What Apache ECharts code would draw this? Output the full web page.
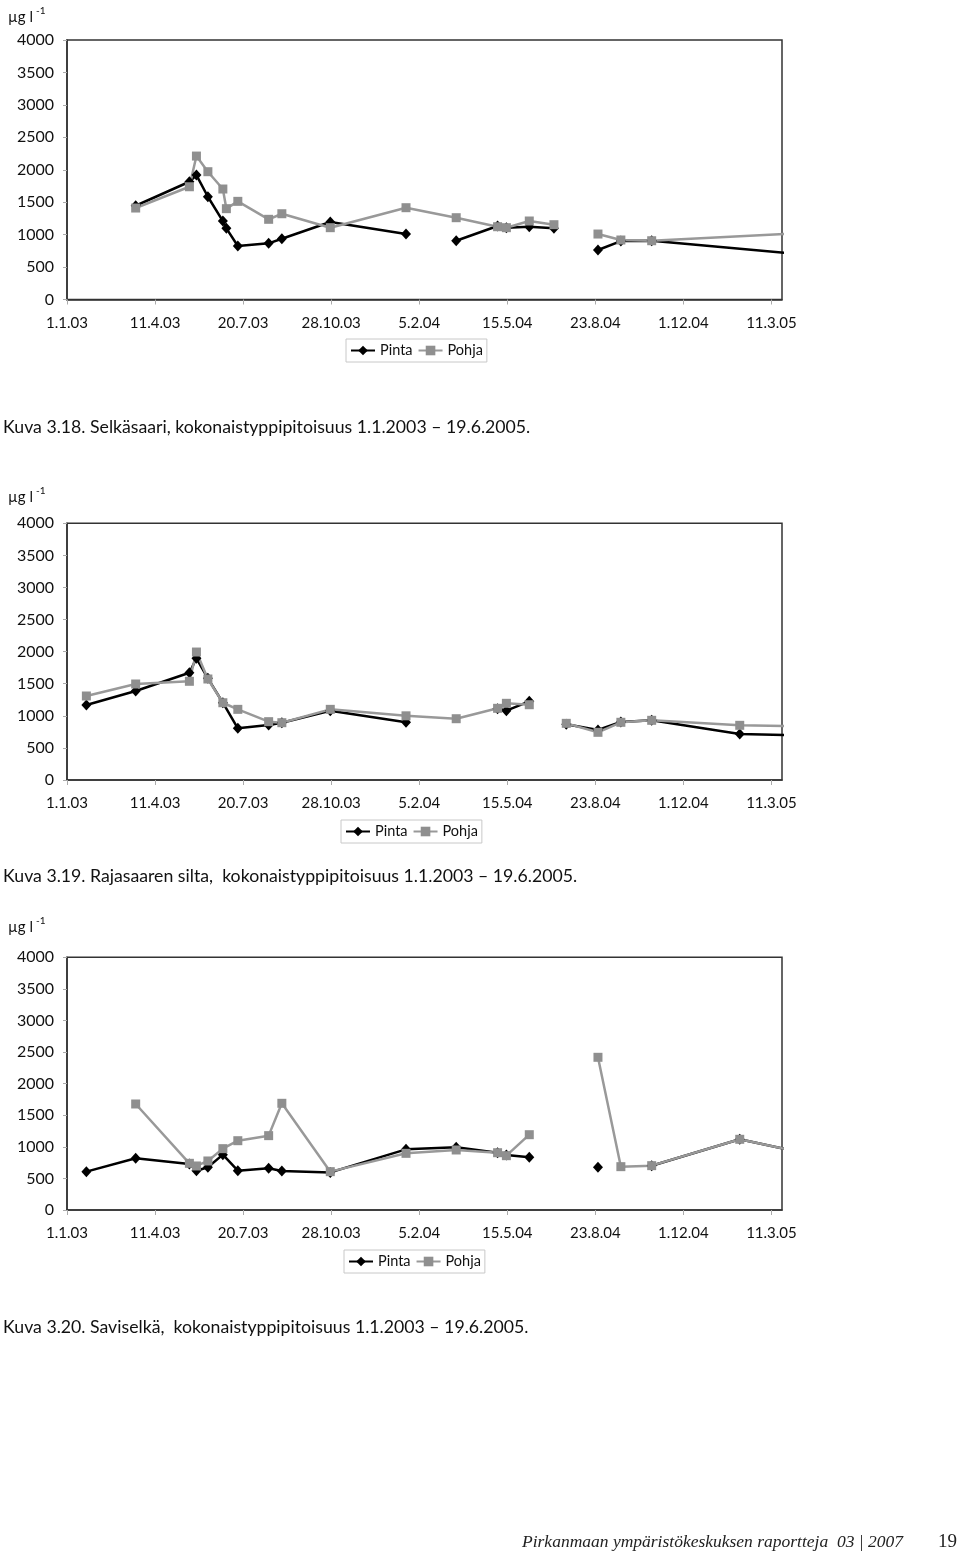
<!DOCTYPE html>
<html>
<head>
<meta charset="utf-8">
<script src="https://cdn.jsdelivr.net/npm/echarts@6/dist/echarts.min.js"></script>
<style>
html, body { margin: 0; padding: 0; background: #fff; }
#main { width: 960px; height: 1551px; }
</style>
</head>
<body>
<div id="main"></div>
<script>
var myChart = echarts.init(document.getElementById('main'));

// y-akselin asteikko
var yMin = 0, yMax = 4000, yStep = 500;
// x-akseli päivinä 1.1.2003 alkaen, merkinnät 100 päivän välein
var xMax = 812, xStep = 100;

// Kuva 3.18 Selkäsaari (null = katko viivassa)
var selkaPintaPvm = ['20.3.2003', '20.5.2003', '28.5.2003', '10.6.2003', '27.6.2003', '1.7.2003', '14.7.2003',
  '18.8.2003', '2.9.2003', '27.10.2003', '21.1.2004', '15.2.2004', '18.3.2004', '4.5.2004', '14.5.2004',
  '9.6.2004', '7.7.2004', '1.8.2004', '26.8.2004', '21.9.2004', '26.10.2004', '19.6.2005'];
var selkaPinta = [1445, 1815, 1918, 1584, 1209, 1097, 824, 866, 937, 1194, 1009, null, 906, 1133, 1105,
  1122, 1097, null, 763, 901, 906, 612];
var selkaPohjaPvm = ['20.3.2003', '20.5.2003', '28.5.2003', '10.6.2003', '27.6.2003', '1.7.2003', '14.7.2003',
  '18.8.2003', '2.9.2003', '27.10.2003', '21.1.2004', '18.3.2004', '4.5.2004', '14.5.2004',
  '9.6.2004', '7.7.2004', '1.8.2004', '26.8.2004', '21.9.2004', '26.10.2004', '19.6.2005'];
var selkaPohja = [1410, 1738, 2211, 1970, 1703, 1400, 1513, 1236, 1322, 1107, 1415, 1261, 1122, 1107,
  1210, 1153, null, 1009, 917, 906, 1070];

// Kuva 3.19 Rajasaaren silta
var rajaPvm = ['23.1.2003', '20.3.2003', '20.5.2003', '28.5.2003', '10.6.2003', '27.6.2003', '14.7.2003',
  '18.8.2003', '2.9.2003', '27.10.2003', '21.1.2004', '18.3.2004', '4.5.2004', '14.5.2004', '9.6.2004',
  '1.7.2004', '21.7.2004', '26.8.2004', '21.9.2004', '26.10.2004', '3.2.2005', '19.6.2005'];
var rajaPinta = [1168, 1386, 1672, 1896, 1584, 1204, 805, 857, 893, 1080, 900, null, 1110, 1080, 1226,
  null, 870, 779, 905, 930, 717, 672];
var rajaPohja = [1309, 1496, 1538, 1994, 1574, 1204, 1101, 909, 893, 1101, 1000, 955, 1117, 1195, 1173,
  null, 883, 743, 899, 930, 852, 821];

// Kuva 3.20 Saviselkä
var saviPvm = ['23.1.2003', '20.3.2003', '20.5.2003', '28.5.2003', '10.6.2003', '27.6.2003', '14.7.2003',
  '18.8.2003', '2.9.2003', '27.10.2003', '21.1.2004', '18.3.2004', '4.5.2004', '14.5.2004', '9.6.2004',
  '15.7.2004', '26.8.2004', '21.9.2004', '26.10.2004', '3.2.2005', '19.6.2005'];
var saviPinta = [607, 818, 730, 622, 676, 876, 622, 660, 617, 595, 960, 992, 905, 870, 834,
  null, 676, null, 700, 1119, 714];
var saviPohja = [null, 1678, 739, 697, 776, 971, 1097, 1177, 1689, 607, 897, 950, 907, 860, 1192,
  null, 2417, 686, 702, 1119, 714];

var fontti = 'Lato, "Open Sans", sans-serif';
var alku = Date.UTC(2003, 0, 1);

// päivämäärä -> päiviä alusta
function paiva(s) {
  var p = s.split('.');
  return (Date.UTC(+p[2], p[1] - 1, +p[0]) - alku) / 86400000;
}
// päiviä alusta -> d.m.yy
function pvmTeksti(d) {
  var t = new Date(alku + d * 86400000);
  return t.getUTCDate() + '.' + (t.getUTCMonth() + 1) + '.' + String(t.getUTCFullYear()).slice(2);
}
function pisteet(pvm, arvot) {
  return pvm.map(function (s, i) { return [paiva(s), arvot[i]]; });
}

// kaavioiden paikat
var ruudut = [
  { top: 40, height: 259.5, legendTop: 339, legendLeft: 346, ylabel: 17, caption: 427,
    text: 'Kuva 3.18. Selkäsaari, kokonaistyppipitoisuus 1.1.2003 \u2013 19.6.2005.' },
  { top: 523.3, height: 256.7, legendTop: 820, legendLeft: 341, ylabel: 497, caption: 876,
    text: 'Kuva 3.19. Rajasaaren silta,  kokonaistyppipitoisuus 1.1.2003 \u2013 19.6.2005.' },
  { top: 957.3, height: 252.7, legendTop: 1250, legendLeft: 344, ylabel: 927, caption: 1327,
    text: 'Kuva 3.20. Saviselkä,  kokonaistyppipitoisuus 1.1.2003 \u2013 19.6.2005.' }
];

var sarjaData = [
  [pisteet(selkaPintaPvm, selkaPinta), pisteet(selkaPohjaPvm, selkaPohja)],
  [pisteet(rajaPvm, rajaPinta), pisteet(rajaPvm, rajaPohja)],
  [pisteet(saviPvm, saviPinta), pisteet(saviPvm, saviPohja)]
];

var grid = [], xAxis = [], yAxis = [], series = [], legend = [], graphic = [];

ruudut.forEach(function (r, i) {
  grid.push({
    left: 67, width: 715, top: r.top, height: r.height,
    show: true, borderColor: '#333', borderWidth: 1.5, backgroundColor: 'transparent'
  });
  xAxis.push({
    type: 'value', gridIndex: i, min: 0, max: xMax, interval: xStep,
    axisLine: { lineStyle: { color: '#333', width: 1.5 } },
    axisTick: { show: true, length: 5, lineStyle: { color: '#aaa' } },
    axisLabel: {
      margin: 16, color: '#111', fontSize: 15, fontFamily: fontti, showMaxLabel: false,
      formatter: pvmTeksti
    },
    splitLine: { show: false }
  });
  yAxis.push({
    type: 'value', gridIndex: i, min: yMin, max: yMax, interval: yStep,
    axisLine: { show: true, lineStyle: { color: '#333', width: 1.5 } },
    axisTick: { show: true, length: 4, lineStyle: { color: '#aaa' } },
    axisLabel: {
      margin: 13, color: '#111', fontSize: 16, fontFamily: fontti,
      formatter: function (v) { return String(v); }
    },
    splitLine: { show: false }
  });
  series.push({
    name: 'Pinta', type: 'line', xAxisIndex: i, yAxisIndex: i,
    data: sarjaData[i][0],
    symbol: 'diamond', symbolSize: [10, 11],
    itemStyle: { color: '#000' },
    lineStyle: { color: '#000', width: 2.5 },
    connectNulls: false
  });
  series.push({
    name: 'Pohja', type: 'line', xAxisIndex: i, yAxisIndex: i,
    data: sarjaData[i][1],
    symbol: 'rect', symbolSize: 9,
    itemStyle: { color: '#8f8f8f' },
    lineStyle: { color: '#999', width: 2.5 },
    connectNulls: false
  });
  legend.push({
    data: ['Pinta', 'Pohja'],
    left: r.legendLeft, top: r.legendTop,
    orient: 'horizontal',
    padding: [4, 4],
    itemGap: 5, itemWidth: 24, itemHeight: 12,
    borderColor: '#c8c8c8', borderWidth: 1,
    textStyle: { fontSize: 14.5, fontFamily: fontti, color: '#111' }
  });
  graphic.push({
    type: 'text', x: 8, y: r.ylabel,
    style: { text: 'µg l', fontSize: 15, fontFamily: fontti, fill: '#111', verticalAlign: 'middle' }
  });
  graphic.push({
    type: 'text', x: 36, y: r.ylabel - 6,
    style: { text: '-1', fontSize: 10, fontFamily: fontti, fill: '#111', verticalAlign: 'middle' }
  });
  graphic.push({
    type: 'text', x: 3, y: r.caption,
    style: { text: r.text, fontSize: 17.7, fontFamily: fontti, fill: '#111', verticalAlign: 'middle' }
  });
});

// alatunniste
graphic.push({
  type: 'text', x: 522, y: 1542,
  style: {
    text: 'Pirkanmaan ympäristökeskuksen raportteja  03 | 2007',
    font: 'italic 17.5px "Liberation Serif", "DejaVu Serif", serif', fill: '#222', verticalAlign: 'middle'
  }
});
graphic.push({
  type: 'text', x: 938, y: 1542,
  style: { text: '19', font: '19px "Liberation Serif", serif', fill: '#222', verticalAlign: 'middle' }
});

var option = {
  animation: false,
  backgroundColor: '#fff',
  grid: grid,
  xAxis: xAxis,
  yAxis: yAxis,
  legend: legend,
  series: series,
  graphic: graphic
};

myChart.setOption(option);
</script>
</body>
</html>
